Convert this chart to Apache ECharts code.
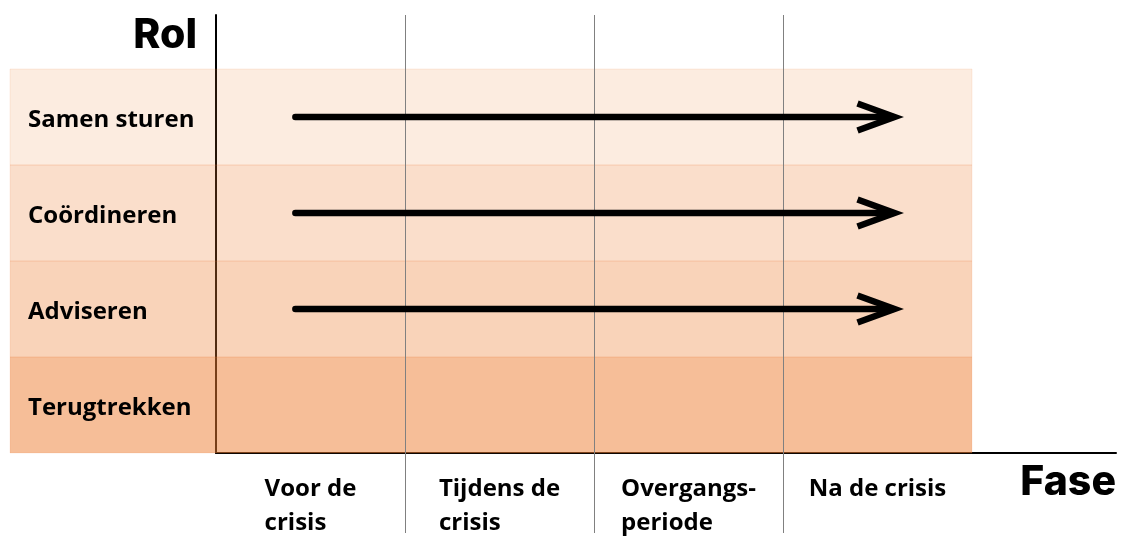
<!DOCTYPE html>
<html>
<head>
<meta charset="utf-8">
<script src="https://cdn.jsdelivr.net/npm/echarts@6/dist/echarts.min.js"></script>
<style>
html,body{margin:0;padding:0;background:#fff;}
#chart{width:1121px;height:536px;}
</style>
</head>
<body>
<div id="chart"></div>
<script>
// ---- data ----
const phases = ['Voor de\ncrisis', 'Tijdens de\ncrisis', 'Overgangs-\nperiode', 'Na de crisis'];
const roles = ['Terugtrekken', 'Adviseren', 'Coördineren', 'Samen sturen']; // bottom -> top
const bandOpacity = [0.5, 0.34, 0.25, 0.15];
const arrowRoles = ['Samen sturen', 'Coördineren', 'Adviseren'];
const arrowStart = [0.42, 0.42, 0.42];
const arrowEnd = [3.59, 3.59, 3.59];
const phaseBoundaries = [1, 2, 3];
const xAxisName = 'Fase';
const yAxisName = 'Rol';

// ---- layout ----
const X_MAX = 900 / 189;
const Y_MAX = 438 / 96;
const BAND_LEFT = 10;
const LABEL_LEFT = 28;
const VLINE_BOTTOM = 533;
const ORANGE = '237,125,49';
const ARROW_W = 6.5;

const chart = echarts.init(document.getElementById('chart'), null, {renderer: 'canvas'});

const option = {
  animation: false,
  backgroundColor: '#fff',
  grid: {left: 216, right: 5, top: 15, bottom: 83, containLabel: false},
  xAxis: {
    type: 'value', min: 0, max: X_MAX, interval: 0.5,
    name: xAxisName, nameLocation: 'end', nameGap: 0,
    nameTextStyle: {fontFamily: 'Inter', fontWeight: 800, fontSize: 41, color: '#000',
      align: 'right', verticalAlign: 'top', padding: [9, 0, 0, 0]},
    axisLine: {show: true, lineStyle: {color: '#000', width: 2}},
    axisTick: {show: false},
    splitLine: {show: false},
    axisLabel: {
      margin: 19,
      showMaxLabel: false,
      formatter: function (v) {
        const i = Math.floor(v + 1e-9);
        if (Math.abs(v - i - 0.5) < 1e-6 && i < phases.length) {
          return phases[i].split('\n').map(s => '{a|' + s + '}').join('\n');
        }
        return '';
      },
      rich: {a: {fontFamily: 'Open Sans', fontWeight: 'bold', fontSize: 24, lineHeight: 34, color: '#000', align: 'left'}}
    }
  },
  yAxis: {
    type: 'value', min: 0, max: Y_MAX,
    name: yAxisName, nameLocation: 'end', nameGap: 0,
    nameTextStyle: {fontFamily: 'Inter', fontWeight: 800, fontSize: 41, color: '#000',
      align: 'right', verticalAlign: 'top', padding: [0, 19, 0, 0]},
    axisLine: {show: true, lineStyle: {color: '#000', width: 2}},
    axisTick: {show: false},
    axisLabel: {show: false},
    splitLine: {show: false}
  },
  series: [
    {
      type: 'custom', coordinateSystem: 'cartesian2d', clip: false, z: 2,
      data: roles.map((r, i) => [i]),
      renderItem: function (params, api) {
        const i = api.value(0);
        const p0 = api.coord([0, i]);
        const p1 = api.coord([phases.length, i + 1]);
        return {
          type: 'group',
          children: [
            {type: 'rect', shape: {x: BAND_LEFT, y: p1[1], width: p1[0] - BAND_LEFT, height: p0[1] - p1[1]},
              style: {fill: 'rgba(' + ORANGE + ',' + bandOpacity[i] + ')', stroke: 'rgba(' + ORANGE + ',0.12)', lineWidth: 1}},
            {type: 'text', style: {text: roles[i], x: LABEL_LEFT, y: (p0[1] + p1[1]) / 2 + 3,
              textAlign: 'left', textVerticalAlign: 'middle',
              fontFamily: 'Open Sans', fontWeight: 'bold', fontSize: 24, fill: '#000'}}
          ]
        };
      }
    },
    {
      type: 'custom', coordinateSystem: 'cartesian2d', clip: false, z: 3,
      data: phaseBoundaries.map(v => [v]),
      renderItem: function (params, api) {
        const top = api.coord([api.value(0), Y_MAX]);
        const x = Math.round(top[0]) + 0.5;
        return {type: 'line', shape: {x1: x, y1: top[1], x2: x, y2: VLINE_BOTTOM},
          style: {stroke: '#808080', lineWidth: 1}};
      }
    },
    {
      type: 'custom', coordinateSystem: 'cartesian2d', clip: false, z: 4,
      data: arrowRoles.map((r, k) => [arrowStart[k], arrowEnd[k], roles.indexOf(r) + 0.5]),
      renderItem: function (params, api) {
        const a = api.coord([api.value(0), api.value(2)]);
        const b = api.coord([api.value(1), api.value(2)]);
        return {
          type: 'group',
          children: [
            {type: 'line', shape: {x1: a[0], y1: a[1], x2: b[0] - 2, y2: b[1]},
              style: {stroke: '#000', lineWidth: ARROW_W, lineCap: 'round'}},
            {type: 'polyline', shape: {points: [[b[0] - 37, b[1] - 13.5], [b[0], b[1]], [b[0] - 37, b[1] + 13.5]]},
              style: {stroke: '#000', lineWidth: ARROW_W, fill: null, lineJoin: 'miter', lineCap: 'butt'}}
          ]
        };
      }
    }
  ]
};
chart.setOption(option);
</script>
</body>
</html>
